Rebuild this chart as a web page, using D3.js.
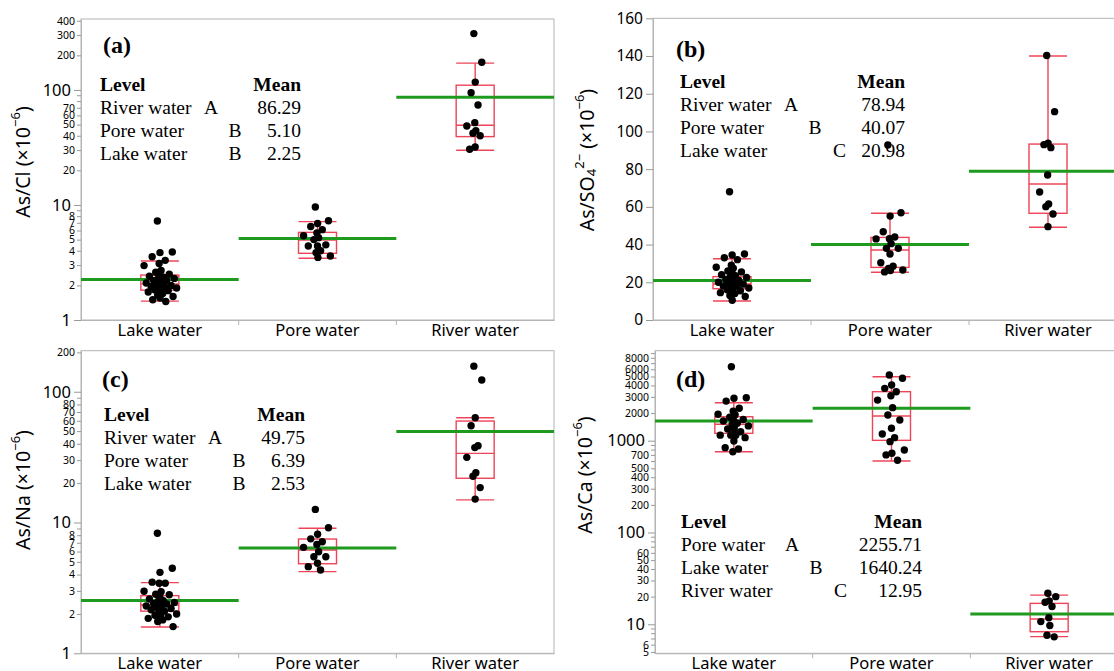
<!DOCTYPE html>
<html>
<head>
<meta charset="utf-8">
<script src="https://cdn.jsdelivr.net/npm/d3@7"></script>
<style>
  body { margin: 0; background: #fff; }
  svg { display: block; }
  .tick text { font-family: "Noto Sans", sans-serif; fill: #000; }
</style>
</head>
<body>
<svg id="chart" width="1114" height="671"></svg>
<script>
// ---- data ----
const groups = ["Lake water", "Pore water", "River water"];

// (a) As/Cl
const clLake = [7.26, 3.9, 3.85, 3.55, 3.3, 3.1, 2.97, 2.7, 2.6, 2.5, 2.45, 2.4, 2.35, 2.3, 2.3, 2.25, 2.2, 2.2, 2.15, 2.1, 2.1, 2.05, 2.0, 2.0, 1.95, 1.95, 1.9, 1.9, 1.85, 1.82, 1.8, 1.78, 1.75, 1.7, 1.65, 1.6, 1.55, 1.5, 1.45];
const clPore = [9.6, 7.3, 6.9, 6.5, 6.1, 5.7, 5.4, 5.2, 5.0, 4.5, 4.4, 4.4, 4.0, 3.85, 3.6, 3.5];
const clRiver = [309, 174, 117, 94.8, 74, 52, 48.6, 44.3, 42.1, 40, 31.9, 30.5];
// box stats: [low whisker, q1, median, q3, high whisker]
const clBoxes = [[1.46, 1.82, 2.06, 2.46, 3.26], [3.44, 3.8, 4.96, 5.78, 7.17], [29.9, 39.3, 49.3, 110, 171]];
const clMeans = [2.25, 5.10, 86.29];
const clOrder = [2, 1, 0];
const clLetters = ["A", "B", "B"];
const clTicks = [1, 2, 3, 4, 5, 6, 7, 8, 10, 20, 30, 40, 50, 60, 70, 100, 200, 300, 400];
const clMinor = [9, 80, 90];

// (b) As/SO4
const so4Lake = [68, 35, 34.5, 33, 32, 29, 28, 27.5, 26, 25.5, 25, 24, 23.5, 23, 22.5, 22, 21.5, 21, 20.5, 20, 20, 19.5, 19, 18.5, 18, 18, 17.5, 17, 16.5, 16, 15.5, 15, 14.5, 14, 13, 12.5, 10.5];
const so4Pore = [92.8, 56.9, 55.1, 46.8, 44, 43.1, 43, 40.5, 38, 38, 35, 30.4, 28.5, 27.4, 26.5, 26.2, 25.5];
const so4River = [140.3, 110.5, 93.7, 93, 91.4, 76.9, 67.9, 61.5, 60.1, 56.2, 49.5];
const so4Boxes = [[10.1, 16.6, 19.1, 23, 32.5], [25.3, 27.9, 37.1, 43.8, 56.6], [49.2, 56.6, 72.1, 93.3, 140]];
const so4Means = [20.98, 40.07, 78.94];
const so4Order = [2, 1, 0];
const so4Letters = ["A", "B", "C"];
const so4Ticks = [0, 20, 40, 60, 80, 100, 120, 140, 160];

// (c) As/Na
const naLake = [8.27, 4.47, 4.16, 3.5, 3.43, 3.43, 2.98, 2.96, 2.83, 2.8, 2.7, 2.6, 2.52, 2.5, 2.45, 2.45, 2.4, 2.38, 2.35, 2.3, 2.3, 2.25, 2.2, 2.2, 2.15, 2.1, 2.05, 2.0, 1.98, 1.95, 1.9, 1.87, 1.85, 1.8, 1.75, 1.6];
const naPore = [12.6, 9.12, 8.13, 7.5, 7.13, 6.8, 6.46, 5.98, 5.48, 5.48, 4.88, 4.6, 4.33];
const naRiver = [157, 123, 63.2, 54.9, 38.6, 37.4, 31.5, 24, 22.6, 18.5, 15.1];
const naBoxes = [[1.59, 2.1, 2.34, 2.76, 3.47], [4.21, 4.84, 6.16, 7.48, 9.03], [14.9, 21.8, 33.8, 59.7, 63.2]];
const naMeans = [2.53, 6.39, 49.75];
const naOrder = [2, 1, 0];
const naLetters = ["A", "B", "B"];
const naTicks = [1, 2, 3, 4, 5, 6, 7, 8, 10, 20, 30, 40, 50, 60, 70, 80, 100, 200];
const naMinor = [9, 90];

// (d) As/Ca
const caLake = [6400, 2937, 2900, 2700, 2254, 2100, 1941, 1920, 1800, 1700, 1640, 1640, 1550, 1500, 1450, 1365, 1340, 1253, 1200, 1150, 1150, 1150, 1080, 993, 840, 813, 759];
const caPore = [5200, 4786, 4050, 3720, 3420, 3090, 2770, 2290, 1905, 1680, 1365, 1183, 1080, 976, 792, 729, 700, 612];
const caRiver = [21.8, 20, 18, 17.4, 15.6, 11.8, 10.7, 9.7, 7.6, 7.3];
const caBoxes = [[759, 1203, 1511, 1824, 2594], [601, 1009, 1858, 3420, 4977], [7.33, 8.3, 11.4, 16.9, 20.8]];
const caMeans = [1640.24, 2255.71, 12.95];
const caOrder = [1, 0, 2];
const caLetters = ["A", "B", "C"];
const caTicks = [5, 6, 10, 20, 30, 40, 50, 60, 100, 200, 300, 400, 500, 700, 1000, 2000, 3000, 4000, 5000, 6000, 8000];
const caMinor = [7, 8, 9, 70, 80, 90, 600, 800, 900, 7000, 9000];

// ---- layout ----
const panels = [
  { tag: "(a)", pts: [clLake, clPore, clRiver], boxes: clBoxes, means: clMeans, order: clOrder, letters: clLetters,
    log: true, domain: [1, 414], ticks: clTicks, minor: clMinor, major: [1, 10, 100],
    x: [81, 554], y: [19, 320], tagPos: [103, 53], leg: [100, 91], meanRight: 301, title: "cl", titlePos: [22, 162] },
  { tag: "(b)", pts: [so4Lake, so4Pore, so4River], boxes: so4Boxes, means: so4Means, order: so4Order, letters: so4Letters,
    log: false, domain: [0, 160], ticks: so4Ticks, minor: [], major: so4Ticks,
    x: [653, 1127], y: [18.3, 320], tagPos: [676, 57], leg: [680, 88], meanRight: 905, title: "so4", titlePos: [586, 160] },
  { tag: "(c)", pts: [naLake, naPore, naRiver], boxes: naBoxes, means: naMeans, order: naOrder, letters: naLetters,
    log: true, domain: [1, 206], ticks: naTicks, minor: naMinor, major: [1, 10, 100],
    x: [81, 554], y: [350.7, 653.3], tagPos: [102, 387], leg: [104, 421], meanRight: 305, title: "na", titlePos: [22, 490] },
  { tag: "(d)", pts: [caLake, caPore, caRiver], boxes: caBoxes, means: caMeans, order: caOrder, letters: caLetters,
    log: true, domain: [4.83, 9560], ticks: caTicks, minor: caMinor, major: [10, 100, 1000],
    x: [655, 1128], y: [350.7, 653.3], tagPos: [676, 387], leg: [681, 528], meanRight: 922, title: "ca", titlePos: [584, 475] }
];

const RED = "#ee4458", GREEN = "#1e9a1e", FRAME = "#b4b4b4";
const svg = d3.select("#chart");
svg.append("rect").attr("width", 1114).attr("height", 671).attr("fill", "#fff");

// deterministic jitter in [-1, 1], denser near the centre
const jitter = (i) => {
  const u = ((i * 0.618034 + 0.31) % 1 - 0.5) * 2;
  return Math.sign(u) * u * u;
};
const spread = [17, 15, 9];

panels.forEach((p) => {
  const g = svg.append("g");
  const xScale = d3.scaleBand().domain(groups).range(p.x);
  const yScale = (p.log ? d3.scaleLog() : d3.scaleLinear()).domain(p.domain).range([p.y[1], p.y[0]]);
  const bw = xScale.bandwidth();
  const boxW = 38;

  // frame
  g.append("rect")
    .attr("x", p.x[0]).attr("y", p.y[0])
    .attr("width", p.x[1] - p.x[0]).attr("height", p.y[1] - p.y[0])
    .attr("fill", "none").attr("stroke", FRAME);

  // y axis
  const yAxis = d3.axisLeft(yScale)
    .tickValues(p.ticks.concat(p.minor))
    .tickFormat((d) => (p.minor.includes(d) ? "" : d))
    .tickSizeOuter(0);
  const ya = g.append("g").attr("transform", `translate(${p.x[0]},0)`).call(yAxis);
  ya.select(".domain").attr("stroke", FRAME);
  ya.selectAll(".tick line").attr("stroke", "#999")
    .attr("x2", (d) => (p.major.includes(d) ? -7 : -4));
  ya.selectAll(".tick text")
    .attr("x", (d) => (p.major.includes(d) ? -10 : -6))
    .style("font-size", (d) => (p.major.includes(d) ? (p.log ? "16.5px" : "15.5px") : "10.5px"));

  // x axis
  const xa = g.append("g").attr("transform", `translate(0,${p.y[1]})`)
    .call(d3.axisBottom(xScale).tickSize(0).tickSizeOuter(0));
  xa.select(".domain").attr("stroke", FRAME);
  xa.selectAll(".tick text").attr("y", 4).style("font-size", "16.5px");
  g.selectAll(".sep").data(groups.slice(1)).join("line")
    .attr("x1", (d) => xScale(d)).attr("x2", (d) => xScale(d))
    .attr("y1", p.y[1]).attr("y2", p.y[1] + 5).attr("stroke", FRAME);

  // boxes
  groups.forEach((grp, gi) => {
    const cx = xScale(grp) + bw / 2;
    const [lo, q1, md, q3, hi] = p.boxes[gi];
    const bg = g.append("g").attr("stroke", RED).attr("stroke-width", 1.4).attr("fill", "none");
    bg.append("line").attr("x1", cx).attr("x2", cx).attr("y1", yScale(hi)).attr("y2", yScale(q3));
    bg.append("line").attr("x1", cx).attr("x2", cx).attr("y1", yScale(q1)).attr("y2", yScale(lo));
    bg.append("rect").attr("x", cx - boxW / 2).attr("width", boxW)
      .attr("y", yScale(q3)).attr("height", yScale(q1) - yScale(q3));
    [lo, md, hi].forEach((v) => {
      bg.append("line").attr("x1", cx - boxW / 2).attr("x2", cx + boxW / 2)
        .attr("y1", yScale(v)).attr("y2", yScale(v));
    });
  });

  // mean lines
  g.selectAll(".mean").data(p.means).join("line")
    .attr("x1", (d, i) => xScale(groups[i]))
    .attr("x2", (d, i) => xScale(groups[i]) + bw)
    .attr("y1", (d) => yScale(d)).attr("y2", (d) => yScale(d))
    .attr("stroke", GREEN).attr("stroke-width", 3);

  // points
  p.pts.forEach((vals, gi) => {
    const cx = xScale(groups[gi]) + bw / 2;
    g.append("g").selectAll("circle").data(vals).join("circle")
      .attr("cx", (d, i) => cx + jitter(i) * spread[gi])
      .attr("cy", (d) => yScale(d))
      .attr("r", 3.7).attr("fill", "#000");
  });

  // panel tag
  g.append("text").attr("x", p.tagPos[0]).attr("y", p.tagPos[1])
    .style("font-family", '"Liberation Serif", serif').style("font-weight", "bold").style("font-size", "24px")
    .text(p.tag);

  // legend
  const serif = '"Liberation Serif", serif';
  const lg = g.append("g").style("font-family", serif).style("font-size", "19.5px");
  lg.append("text").attr("x", p.leg[0]).attr("y", p.leg[1]).style("font-weight", "bold").text("Level");
  lg.append("text").attr("x", p.meanRight).attr("y", p.leg[1]).attr("text-anchor", "end")
    .style("font-weight", "bold").text("Mean");
  p.order.forEach((gi, r) => {
    const yy = p.leg[1] + 23 * (r + 1);
    const letterIdx = "ABC".indexOf(p.letters[r]);
    lg.append("text").attr("x", p.leg[0]).attr("y", yy).text(groups[gi]);
    lg.append("text").attr("x", p.leg[0] + 104 + 24.5 * letterIdx).attr("y", yy).text(p.letters[r]);
    lg.append("text").attr("x", p.meanRight).attr("y", yy).attr("text-anchor", "end")
      .text(d3.format(".2f")(p.means[gi]));
  });

  // y title
  const t = g.append("text")
    .attr("transform", `translate(${p.titlePos[0]},${p.titlePos[1]}) rotate(-90)`)
    .attr("text-anchor", "middle").attr("dominant-baseline", "central")
    .style("font-family", '"Noto Sans", sans-serif').style("font-size", "19.5px");
  const base = { cl: "As/Cl", na: "As/Na", ca: "As/Ca" }[p.title];
  if (p.title === "so4") {
    t.append("tspan").text("As/SO");
    t.append("tspan").attr("dy", 5).style("font-size", "13px").text("4");
    t.append("tspan").attr("dy", -12).style("font-size", "13px").text("2\u2212");
    t.append("tspan").attr("dy", 7).text(" (\u00d710");
  } else {
    t.append("tspan").text(base + " (\u00d710");
  }
  t.append("tspan").attr("dy", -7).style("font-size", "13px").text("\u22126");
  t.append("tspan").attr("dy", 7).text(")");
});
</script>
</body>
</html>
